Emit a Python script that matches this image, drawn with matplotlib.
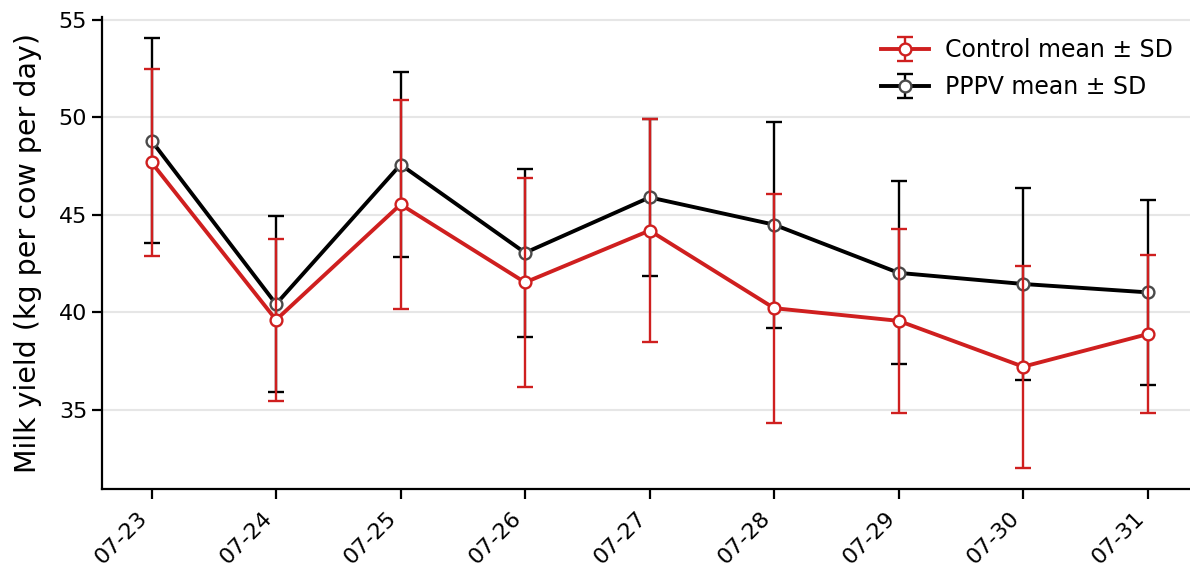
import matplotlib

matplotlib.use("Agg")
import matplotlib.pyplot as plt
import numpy as np

# daily milk yield, mean and SD per group
dates = ["07-23", "07-24", "07-25", "07-26", "07-27", "07-28", "07-29", "07-30", "07-31"]
control_mean = [47.69, 39.62, 45.54, 41.54, 44.20, 40.22, 39.57, 37.22, 38.89]
control_sd = [4.77, 4.14, 5.36, 5.35, 5.73, 5.87, 4.73, 5.17, 4.07]
pppv_mean = [48.80, 40.43, 47.58, 43.06, 45.90, 44.50, 42.03, 41.46, 41.03]
pppv_sd = [5.25, 4.52, 4.74, 4.32, 4.01, 5.28, 4.69, 4.92, 4.76]

RED = "#cf1f1f"
BLACK = "#000000"


def main():
    fig = plt.figure(figsize=(11.9, 5.67), dpi=100)
    ax = fig.add_axes([0.0855, 0.1376, 0.9208, 0.8325])

    x = np.arange(len(dates))

    pppv = ax.errorbar(
        x, pppv_mean, yerr=pppv_sd,
        color=BLACK, lw=2.8, elinewidth=1.7, capsize=6, capthick=1.7,
        marker="o", markersize=8.5, markerfacecolor="white",
        markeredgecolor="#4a4a4a", markeredgewidth=1.7,
        label="PPPV mean \u00b1 SD", zorder=3,
    )
    control = ax.errorbar(
        x, control_mean, yerr=control_sd,
        color=RED, lw=2.8, elinewidth=1.7, capsize=6, capthick=1.7,
        marker="o", markersize=8.5, markerfacecolor="white",
        markeredgecolor=RED, markeredgewidth=1.7,
        label="Control mean \u00b1 SD", zorder=4,
    )

    ax.set_xticks(x)
    ax.set_xticklabels(dates, rotation=45, ha="right")
    ax.set_yticks([35, 40, 45, 50, 55])
    ax.tick_params(labelsize=16, width=1.6, length=7)
    ax.tick_params(axis="x", pad=6.5)
    ax.set_ylabel("Milk yield (kg per cow per day)", fontsize=20.5, labelpad=12)

    ax.yaxis.grid(True, color="#e6e6e6", lw=1.5)
    ax.set_axisbelow(True)
    for side in ("top", "right"):
        ax.spines[side].set_visible(False)
    for side in ("left", "bottom"):
        ax.spines[side].set_linewidth(1.6)

    ax.legend(
        [control, pppv],
        ["Control mean \u00b1 SD", "PPPV mean \u00b1 SD"],
        loc="upper right", bbox_to_anchor=(0.997, 1.0),
        frameon=False, fontsize=17, handlelength=2.0,
        handletextpad=0.7, labelspacing=0.55,
    )

    fig.savefig("out.png", dpi=100)


if __name__ == "__main__":
    main()
